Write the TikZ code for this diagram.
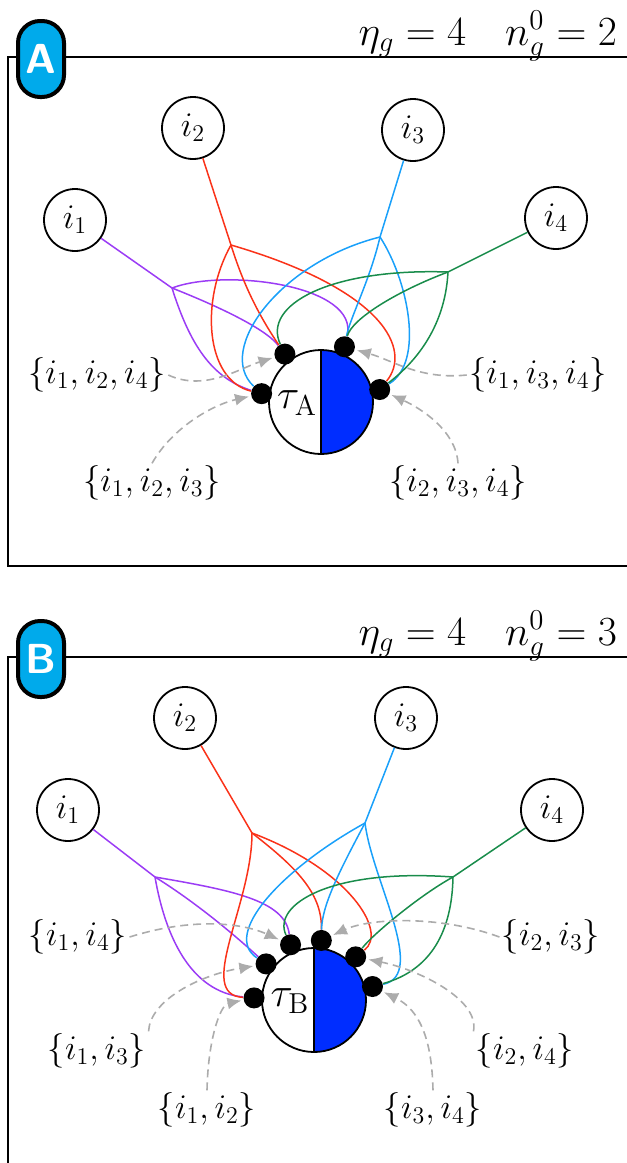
\documentclass[tikz,border=0pt]{standalone}
\usepackage{amsmath}
\definecolor{hgpurple}{RGB}{155,60,245}
\definecolor{hgred}{RGB}{250,50,25}
\definecolor{hgblue}{RGB}{25,160,250}
\definecolor{hggreen}{RGB}{25,140,75}
\definecolor{hgcyan}{RGB}{0,170,235}
\definecolor{hgfill}{RGB}{0,45,255}
\usetikzlibrary{arrows.meta,calc}

\tikzset{
  vnode/.style={circle, draw, line width=0.9pt, fill=white, minimum size=31pt, inner sep=0pt, font=\fontsize{18}{21}\selectfont},
  port/.style={circle, fill=black, minimum size=10.5pt, inner sep=0pt},
  wire/.style={line width=0.75pt},
  hint/.style={gray!65, dash pattern=on 4pt off 2.5pt, line width=0.8pt, -{Latex[length=7pt,width=6pt]}, shorten >=1pt},
  setlbl/.style={font=\fontsize{17.5}{20}\selectfont, inner sep=1pt},
  tag/.style={rectangle, rounded corners=11pt, draw=black, line width=2pt, fill=hgcyan, text=white, minimum width=23pt, minimum height=38pt, inner sep=0pt, font=\sffamily\bfseries\fontsize{21}{21}\selectfont},
  hub/.style={circle, draw, line width=0.9pt, minimum size=52pt, inner sep=0pt, path picture={\fill[hgfill] (path picture bounding box.north) rectangle (path picture bounding box.south east);}},
  head/.style={anchor=base east, font=\fontsize{19.5}{23}\selectfont},
}

\begin{document}
\begin{tikzpicture}[x=0.5pt, y=-0.5pt]
  \useasboundingbox (0,0) rectangle (627,1163);

  % ---------------- panel A ----------------
  \draw[line width=0.9pt] (627,57) -- (8,57) -- (8,566) -- (627,566);
  \node[tag] (tagA) at (41,59) {A};
  \node[head] (hdrA) at (624,45) {$\eta_g = 4 \quad n_g^0 = 2$};

  \node[vnode] (i1A) at (75,220) {$i_1$};
  \node[vnode] (i2A) at (193,128) {$i_2$};
  \node[vnode] (i3A) at (413,130) {$i_3$};
  \node[vnode] (i4A) at (556,218) {$i_4$};

  \node[hub] (tA) at (321,402) {};
  \draw[line width=0.9pt] (tA.north) -- (tA.south);
  \node[font=\fontsize{21}{24}\selectfont] (tAlbl) at (297,403) {$\tau_{\mathrm{A}}$};

  \node[port] (pA1) at ($(tA)+(127:30pt)$) {};
  \node[port] (pA2) at ($(tA)+(67:30pt)$) {};
  \node[port] (pA3) at ($(tA)+(172:30pt)$) {};
  \node[port] (pA4) at ($(tA)+(12:30pt)$) {};

  \coordinate (bA1) at (172,288);
  \coordinate (bA2) at (231,245);
  \coordinate (bA3) at (380,237);
  \coordinate (bA4) at (448,272);

  % i1
  \draw[wire, hgpurple] (i1A) -- (bA1);
  \draw[wire, hgpurple] (bA1) .. controls (215,305) and (265,328) .. (pA1);
  \draw[wire, hgpurple] (bA1) .. controls (225,268) and (360,285) .. (pA2);
  \draw[wire, hgpurple] (bA1) .. controls (190,345) and (212,378) .. (pA3);
  % i2
  \draw[wire, hgred] (i2A) -- (bA2);
  \draw[wire, hgred] (bA2) .. controls (200,300) and (205,380) .. (pA3);
  \draw[wire, hgred] (bA2) .. controls (245,290) and (262,320) .. (pA1);
  \draw[wire, hgred] (bA2) .. controls (385,290) and (412,350) .. (pA4);
  % i3
  \draw[wire, hgblue] (i3A) -- (bA3);
  \draw[wire, hgblue] (bA3) .. controls (280,262) and (215,350) .. (pA3);
  \draw[wire, hgblue] (bA3) .. controls (370,280) and (350,318) .. (pA2);
  \draw[wire, hgblue] (bA3) .. controls (408,280) and (425,362) .. (pA4);
  % i4
  \draw[wire, hggreen] (i4A) -- (bA4);
  \draw[wire, hggreen] (bA4) .. controls (330,268) and (262,305) .. (pA1);
  \draw[wire, hggreen] (bA4) .. controls (400,290) and (352,318) .. (pA2);
  \draw[wire, hggreen] (bA4) .. controls (445,330) and (412,365) .. (pA4);

  \node[setlbl] (sA1) at (97,375) {$\{i_1,i_2,i_4\}$};
  \node[setlbl] (sA2) at (538,375) {$\{i_1,i_3,i_4\}$};
  \node[setlbl] (sA3) at (152,483) {$\{i_1,i_2,i_3\}$};
  \node[setlbl] (sA4) at (458,483) {$\{i_2,i_3,i_4\}$};

  \draw[hint] (sA1.east) .. controls (205,392) and (240,368) .. (pA1);
  \draw[hint] (sA2.west) .. controls (420,380) and (392,360) .. (pA2);
  \draw[hint] (sA3.north) .. controls (172,428) and (212,405) .. (pA3);
  \draw[hint] (sA4.north) .. controls (456,430) and (420,408) .. (pA4);

  % ---------------- panel B ----------------
  \draw[line width=0.9pt] (627,657) -- (8,657) -- (8,1163);
  \node[tag] (tagB) at (41,659) {B};
  \node[head] (hdrB) at (624,645) {$\eta_g = 4 \quad n_g^0 = 3$};

  \node[vnode] (i1B) at (68,810) {$i_1$};
  \node[vnode] (i2B) at (185,718) {$i_2$};
  \node[vnode] (i3B) at (406,718) {$i_3$};
  \node[vnode] (i4B) at (552,810) {$i_4$};

  \node[hub] (tB) at (314,1000) {};
  \draw[line width=0.9pt] (tB.north) -- (tB.south);
  \node[font=\fontsize{21}{24}\selectfont] (tBlbl) at (290,1001) {$\tau_{\mathrm{B}}$};

  \node[port] (pB1) at ($(tB)+(113:30pt)$) {};
  \node[port] (pB2) at ($(tB)+(83:30pt)$) {};
  \node[port] (pB3) at ($(tB)+(46:30pt)$) {};
  \node[port] (pB4) at ($(tB)+(13:30pt)$) {};
  \node[port] (pB5) at ($(tB)+(143:30pt)$) {};
  \node[port] (pB6) at ($(tB)+(178:30pt)$) {};

  \coordinate (bB1) at (155,877);
  \coordinate (bB2) at (252,833);
  \coordinate (bB3) at (365,823);
  \coordinate (bB4) at (453,877);

  % i1
  \draw[wire, hgpurple] (i1B) -- (bB1);
  \draw[wire, hgpurple] (bB1) .. controls (230,890) and (285,900) .. (pB1);
  \draw[wire, hgpurple] (bB1) .. controls (200,905) and (240,940) .. (pB5);
  \draw[wire, hgpurple] (bB1) .. controls (165,935) and (190,992) .. (pB6);
  % i2
  \draw[wire, hgred] (i2B) -- (bB2);
  \draw[wire, hgred] (bB2) .. controls (252,905) and (195,995) .. (pB6);
  \draw[wire, hgred] (bB2) .. controls (300,870) and (322,895) .. (pB2);
  \draw[wire, hgred] (bB2) .. controls (350,870) and (388,932) .. (pB3);
  % i3
  \draw[wire, hgblue] (i3B) -- (bB3);
  \draw[wire, hgblue] (bB3) .. controls (340,870) and (322,905) .. (pB2);
  \draw[wire, hgblue] (bB3) .. controls (280,870) and (222,935) .. (pB5);
  \draw[wire, hgblue] (bB3) .. controls (372,880) and (428,975) .. (pB4);
  % i4
  \draw[wire, hggreen] (i4B) -- (bB4);
  \draw[wire, hggreen] (bB4) .. controls (330,868) and (272,905) .. (pB1);
  \draw[wire, hggreen] (bB4) .. controls (420,895) and (372,935) .. (pB3);
  \draw[wire, hggreen] (bB4) .. controls (452,930) and (432,970) .. (pB4);

  \node[setlbl] (sB1) at (78,937) {$\{i_1,i_4\}$};
  \node[setlbl] (sB2) at (551,937) {$\{i_2,i_3\}$};
  \node[setlbl] (sB3) at (97,1051) {$\{i_1,i_3\}$};
  \node[setlbl] (sB4) at (525,1051) {$\{i_2,i_4\}$};
  \node[setlbl] (sB5) at (207,1110) {$\{i_1,i_2\}$};
  \node[setlbl] (sB6) at (433,1110) {$\{i_3,i_4\}$};

  \draw[hint] (sB1.east) .. controls (190,918) and (240,922) .. (pB1);
  \draw[hint] (sB2.west) .. controls (440,915) and (370,918) .. (pB2);
  \draw[hint] (sB3.north east) .. controls (150,1000) and (200,975) .. (pB5);
  \draw[hint] (sB4.north west) .. controls (480,1000) and (420,970) .. (pB3);
  \draw[hint] (sB5.north) .. controls (208,1040) and (220,1005) .. (pB6);
  \draw[hint] (sB6.north) .. controls (432,1040) and (420,1010) .. (pB4);
\end{tikzpicture}
\end{document}
